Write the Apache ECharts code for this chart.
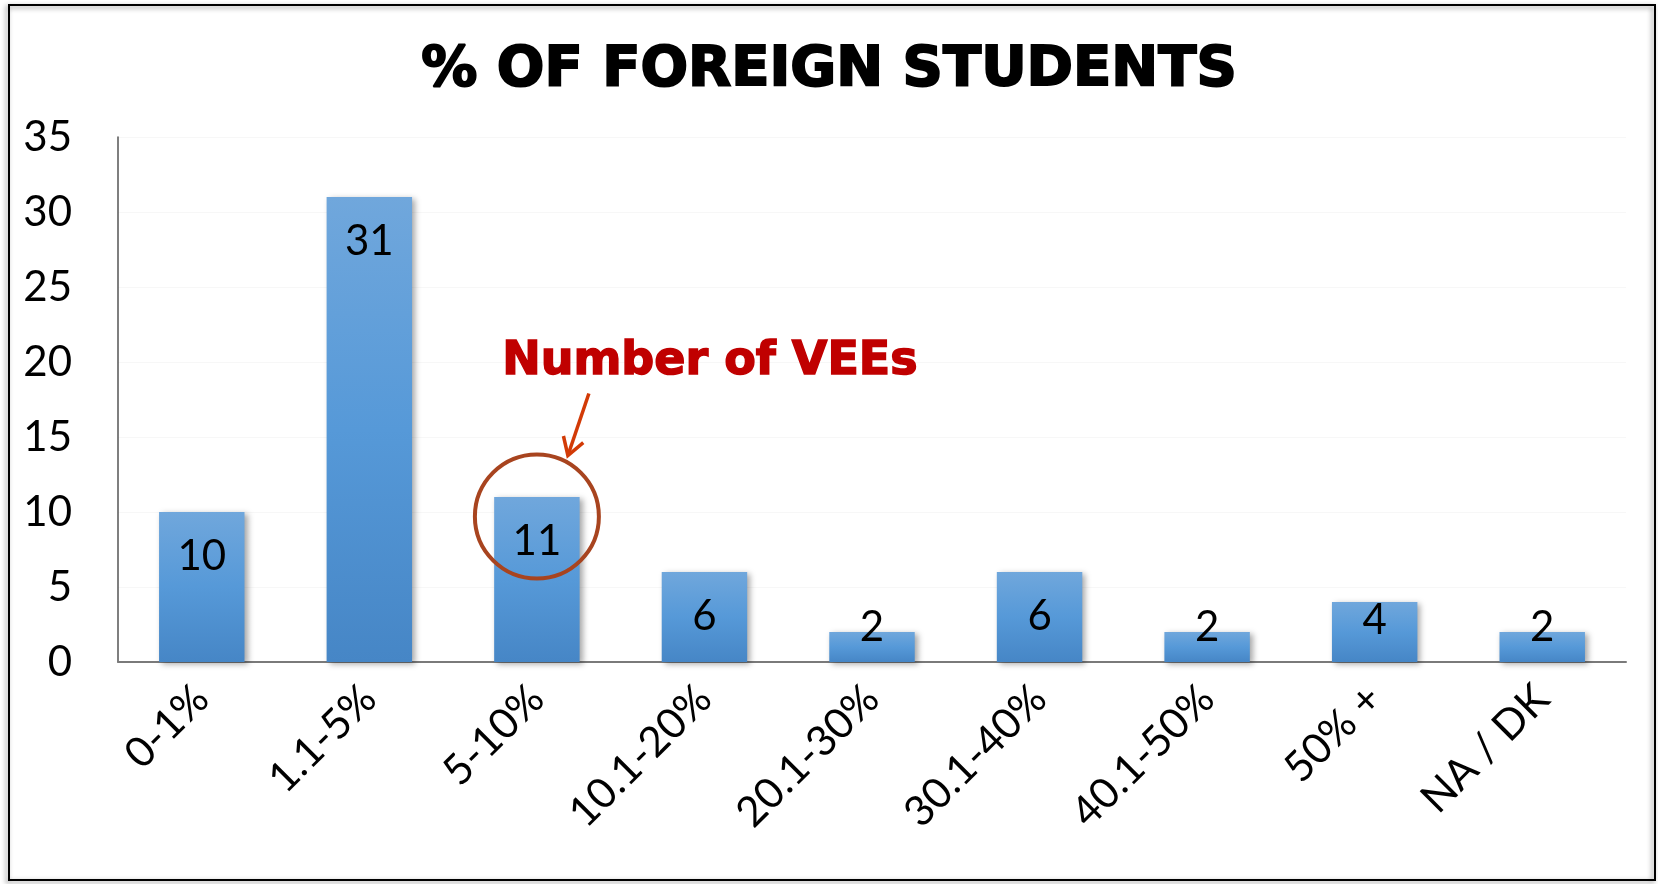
<!DOCTYPE html>
<html>
<head>
<meta charset="utf-8">
<script src="https://cdn.jsdelivr.net/npm/echarts@6/dist/echarts.min.js"></script>
<style>
  html, body { margin: 0; padding: 0; background: #fff; }
  #chart { width: 1658px; height: 884px; }
</style>
</head>
<body>
<div id="chart"></div>
<script>
const categories = ["0-1%", "1.1-5%", "5-10%", "10.1-20%", "20.1-30%", "30.1-40%", "40.1-50%", "50% +", "NA / DK"];
const counts = [10, 31, 11, 6, 2, 6, 2, 4, 2];
const yTicks = { min: 0, max: 35, interval: 5 };
// circled bar + annotation text
const noteCategory = "5-10%";
const noteLevel = 9.7;
const noteText = "Number of VEEs";

const labelFont = "Lato, 'Open Sans', sans-serif";

const myChart = echarts.init(document.getElementById("chart"));

const barData = counts.map((v) => {
  const small = v < 5;
  return {
    value: v,
    label: small
      ? { position: "insideBottom", distance: v < 3 ? 13 : 20 }
      : { position: "insideTop", distance: 22 },
  };
});

const option = {
  animation: false,
  backgroundColor: "#fff",
  title: {
    text: "% OF FOREIGN STUDENTS",
    left: "center",
    top: 37,
    textStyle: {
      fontFamily: "'DejaVu Sans', sans-serif",
      fontWeight: "bold",
      fontSize: 56,
      color: "#000",
      textBorderColor: "#000",
      textBorderWidth: 2,
    },
  },
  grid: {
    left: 118,
    right: 32,
    top: 137,
    bottom: 222,
    containLabel: false,
  },
  xAxis: {
    type: "category",
    data: categories,
    axisLine: { lineStyle: { color: "#7a7a7a", width: 2 } },
    axisTick: { show: false },
    axisLabel: {
      rotate: 45,
      margin: 30,
      color: "#000",
      fontSize: 42,
      fontFamily: labelFont,
      interval: 0,
    },
  },
  yAxis: {
    type: "value",
    min: yTicks.min,
    max: yTicks.max,
    interval: yTicks.interval,
    axisLine: { show: true, lineStyle: { color: "#555", width: 1.5 } },
    axisTick: { show: false },
    splitLine: { show: true, lineStyle: { color: "#f7f7f7" } },
    axisLabel: {
      margin: 46,
      color: "#000",
      fontSize: 42,
      fontFamily: labelFont,
    },
  },
  series: [
    {
      type: "bar",
      data: barData,
      barWidth: "51%",
      itemStyle: {
        color: new echarts.graphic.LinearGradient(0, 0, 0, 1, [
          { offset: 0, color: "#70a7dc" },
          { offset: 0.5, color: "#5699d8" },
          { offset: 1, color: "#4686c6" },
        ]),
        shadowColor: "rgba(0,0,0,0.35)",
        shadowBlur: 6,
        shadowOffsetX: 3,
        shadowOffsetY: 2,
      },
      label: {
        show: true,
        color: "#000",
        fontSize: 42,
        lineHeight: 44,
        fontFamily: labelFont,
      },
    },
  ],
};

myChart.setOption(option);

// annotation placed relative to the circled bar
const [cx, cy] = myChart.convertToPixel({ seriesIndex: 0 }, [noteCategory, noteLevel]);
const tipX = cx + 31, tipY = cy - 61;
const tailX = cx + 52, tailY = cy - 123;
const ang = Math.atan2(tipY - tailY, tipX - tailX);
const head = 20;
myChart.setOption({
  graphic: [
    {
      type: "rect",
      shape: { x: 9, y: 5, width: 1646, height: 875 },
      style: {
        fill: null,
        stroke: "#000",
        lineWidth: 2,
        shadowColor: "rgba(0,0,0,0.45)",
        shadowBlur: 5,
        shadowOffsetX: -2,
        shadowOffsetY: 2,
      },
      silent: true,
      z: 100,
    },
    {
      type: "circle",
      shape: { cx: cx, cy: cy, r: 62 },
      style: { fill: null, stroke: "#a8441f", lineWidth: 4 },
      z: 100,
    },
    {
      type: "polyline",
      shape: { points: [[tailX, tailY], [tipX, tipY]] },
      style: { stroke: "#d23a06", lineWidth: 3.5 },
      z: 100,
    },
    {
      type: "polyline",
      shape: {
        points: [
          [tipX - head * Math.cos(ang - 0.55), tipY - head * Math.sin(ang - 0.55)],
          [tipX, tipY],
          [tipX - head * Math.cos(ang + 0.55), tipY - head * Math.sin(ang + 0.55)],
        ],
      },
      style: { stroke: "#d23a06", lineWidth: 3.5, fill: null },
      z: 100,
    },
    {
      type: "text",
      x: cx + 173,
      y: cy - 154,
      style: {
        text: noteText,
        fill: "#c00000",
        font: "bold 46px 'DejaVu Sans', sans-serif",
        align: "center",
        verticalAlign: "middle",
        stroke: "#c00000",
        lineWidth: 1.5,
      },
      z: 100,
    },
  ],
});

window.addEventListener("resize", function () {
  myChart.resize();
});
</script>
</body>
</html>
